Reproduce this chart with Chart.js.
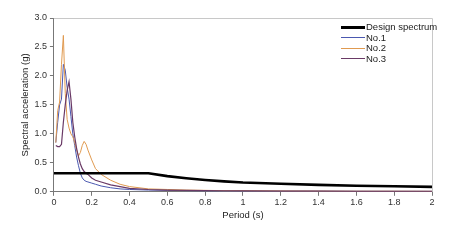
<!DOCTYPE html>
<html>
<head>
<meta charset="utf-8">
<script src="https://cdn.jsdelivr.net/npm/chart.js@4"></script>
<style>
    html, body { margin: 0; padding: 0; background: #fff; }
    #wrap { position: relative; width: 458px; height: 240px; }
    #legend { position: absolute; left: 341px; top: 22px; font: 9.5px "Liberation Sans", Arial, sans-serif; color: #222; line-height: 10.5px; }
    #legend div { display: flex; align-items: center; }
    #legend span.sw { display: inline-block; width: 24px; margin-right: 1px; }
</style>
</head>
<body>
<div id="wrap">
    <canvas id="chart" width="458" height="240"></canvas>
    <div id="legend"></div>
</div>
<script>
const seriesNames = ['Design spectrum', 'No.1', 'No.2', 'No.3'];
const seriesColors = ['#000000', '#4a58b0', '#e09a50', '#6a3a66'];

const designPeriods = [0, 0.5, 0.6, 0.7, 0.8, 0.9, 1.0, 1.2, 1.4, 1.6, 1.8, 2.0];
const designValues = [0.32, 0.32, 0.27, 0.235, 0.205, 0.18, 0.16, 0.14, 0.12, 0.105, 0.095, 0.085];

const periods = [0.01, 0.02, 0.03, 0.04, 0.05, 0.06, 0.07, 0.08, 0.09, 0.1, 0.11, 0.12, 0.13, 0.14, 0.15, 0.16, 0.17, 0.18, 0.2, 0.22, 0.25, 0.3, 0.35, 0.4, 0.5, 0.6, 0.7, 0.8, 0.9, 1.0, 1.2, 1.4, 1.6, 1.8, 2.0];
const no1 = [0.85, 1.2, 1.5, 1.6, 2.2, 2.1, 1.8, 1.6, 1.3, 1.0, 0.8, 0.6, 0.45, 0.32, 0.24, 0.2, 0.18, 0.17, 0.15, 0.13, 0.1, 0.07, 0.05, 0.04, 0.03, 0.025, 0.02, 0.018, 0.015, 0.013, 0.011, 0.01, 0.009, 0.008, 0.007];
const no2 = [0.85, 1.4, 1.55, 2.2, 2.7, 1.7, 1.25, 1.1, 1.0, 0.95, 0.85, 0.72, 0.62, 0.68, 0.8, 0.87, 0.82, 0.72, 0.55, 0.4, 0.3, 0.2, 0.13, 0.09, 0.05, 0.04, 0.03, 0.025, 0.02, 0.02, 0.015, 0.012, 0.01, 0.01, 0.008];
const no3 = [0.8, 0.78, 0.78, 0.82, 1.2, 1.5, 1.75, 1.9, 1.6, 1.2, 0.95, 0.75, 0.6, 0.48, 0.4, 0.35, 0.32, 0.3, 0.24, 0.2, 0.17, 0.12, 0.09, 0.06, 0.04, 0.03, 0.025, 0.02, 0.018, 0.015, 0.012, 0.01, 0.009, 0.008, 0.007];

const yTicks = [0, 0.5, 1.0, 1.5, 2.0, 2.5, 3.0];

function pts(xs, ys) {
    return xs.map((x, i) => ({ x: x, y: ys[i] }));
}

const frame = {
    id: 'frame',
    beforeDatasetsDraw(chart) {
        const a = chart.chartArea;
        const ctx = chart.ctx;
        ctx.save();
        ctx.strokeStyle = '#c8c8c8';
        ctx.lineWidth = 1;
        ctx.beginPath();
        ctx.moveTo(a.left, a.top + 0.5);
        ctx.lineTo(a.right + 0.5, a.top + 0.5);
        ctx.lineTo(a.right + 0.5, a.bottom);
        ctx.stroke();
        ctx.restore();
    }
};

Chart.defaults.font.family = '"Liberation Sans", Arial, sans-serif';
Chart.defaults.color = '#333';

const allData = [pts(designPeriods, designValues), pts(periods, no1), pts(periods, no2), pts(periods, no3)];
const widths = [2.6, 1, 1, 1.2];

new Chart(document.getElementById('chart'), {
    type: 'line',
    data: {
        datasets: seriesNames.map((name, i) => ({
            label: name,
            data: allData[i],
            borderColor: seriesColors[i],
            borderWidth: widths[i],
            pointRadius: 0,
            tension: 0,
            fill: false,
            order: i === 0 ? 0 : 4 - i
        }))
    },
    options: {
        responsive: false,
        animation: false,
        layout: { padding: { left: 20, top: 18, right: 26, bottom: 19 } },
        plugins: { legend: { display: false }, tooltip: { enabled: false } },
        scales: {
            x: {
                type: 'linear',
                min: 0,
                max: 2,
                ticks: { stepSize: 0.2, font: { size: 9 }, color: '#333', padding: 1, callback: v => String(Math.round(v * 10) / 10) },
                grid: { display: true, drawOnChartArea: false, drawTicks: true, tickLength: 4, color: '#777' },
                border: { color: '#777' },
                title: { display: true, text: 'Period (s)', font: { size: 9.5 }, color: '#222', padding: { top: 1, bottom: 0 } }
            },
            y: {
                min: 0,
                max: 3,
                afterBuildTicks: s => { s.ticks = yTicks.map(v => ({ value: v })); },
                ticks: { font: { size: 9 }, color: '#333', padding: 3, callback: v => v.toFixed(1) },
                grid: { display: true, drawOnChartArea: false, drawTicks: true, tickLength: 4, color: '#777' },
                border: { color: '#777' },
                title: { display: true, text: 'Spectral acceleration (g)', font: { size: 9.5 }, color: '#222', padding: { top: 0, bottom: 0 } }
            }
        }
    },
    plugins: [frame]
});

const legend = document.getElementById('legend');
seriesNames.forEach((name, i) => {
    const row = document.createElement('div');
    const sw = document.createElement('span');
    sw.className = 'sw';
    sw.style.borderTop = (i === 0 ? 3 : 1) + 'px solid ' + seriesColors[i];
    row.appendChild(sw);
    row.appendChild(document.createTextNode(name));
    legend.appendChild(row);
});
</script>
</body>
</html>
